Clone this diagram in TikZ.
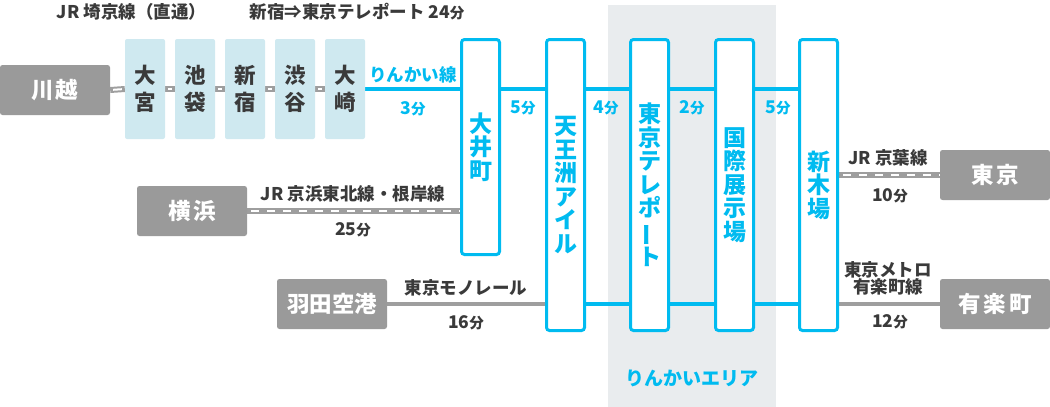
\documentclass[tikz,border=0pt]{standalone}
\usepackage{fontspec}
\setmainfont{Noto Sans CJK JP}
\usepackage{graphicx}
\definecolor{cy}{HTML}{00BBF0}
\definecolor{boxgray}{HTML}{9A9A9A}
\definecolor{linegray}{HTML}{9E9E9E}
\definecolor{lb}{HTML}{CFE9F0}
\definecolor{txt}{HTML}{3A3A3A}
\definecolor{area}{HTML}{E9ECEE}
\pgfdeclarelayer{bg}\pgfdeclarelayer{lines}\pgfsetlayers{bg,lines,main}
\newcommand{\mfun}[1]{#1{\fontsize{14.5}{14.5}\selectfont 分}}
\newcommand{\vbar}{\rotatebox[origin=c]{90}{ー}}
\tikzset{
  graybox/.style={fill=boxgray, rounded corners=2.5pt, text=white, inner sep=0,
    font=\bfseries\fontsize{22.5}{22.5}\selectfont, minimum width=110pt, minimum height=50pt},
  lbbox/.style={fill=lb, rounded corners=2pt, text=txt, inner sep=0, align=center,
    font=\bfseries\fontsize{21.5}{27}\selectfont, minimum width=40pt, minimum height=100pt},
  cybox/.style={draw=cy, line width=3pt, fill=white, rounded corners=3pt, text=cy, inner sep=0,
    align=center, font=\bfseries\fontsize{23}{23.5}\selectfont, minimum width=38pt},
  lbl/.style={text=txt, inner sep=0, align=center, font=\bfseries\fontsize{17.5}{17.5}\selectfont},
  cylbl/.style={lbl, text=cy},
  cyline/.style={draw=cy, line width=3.5pt},
  grayline/.style={draw=linegray, line width=4pt},
  shortrail/.style={draw=linegray, line width=6pt,
    postaction={draw=white, line width=2pt, shorten >=3pt, shorten <=3pt}},
  longrail/.style={draw=linegray, line width=6pt,
    postaction={draw=white, line width=2pt, dash pattern=on 8pt off 8pt, dash phase=12pt}},
}
\begin{document}
\begin{tikzpicture}[x=1pt,y=-1pt]
\useasboundingbox (0,0) rectangle (1050,407);
\begin{pgfonlayer}{bg}
  \fill[area] (608,5) rectangle (776,407);
\end{pgfonlayer}

% origin boxes
\node[graybox] (kawagoe) at (55,90) {川\kern2pt越};
\node[graybox] (yokohama) at (192,211) {横\kern3pt浜};
\node[graybox] (haneda) at (332,304) {羽田空港};
\node[graybox] (tokyo) at (995,175) {東\kern3pt京};
\node[graybox] (yurakucho) at (995,304) {有\kern3pt楽\kern3pt町};

% Saikyo line stations
\node[lbbox] (omiya) at (145,89) {大\\宮};
\node[lbbox] (ikebukuro) at (195,89) {池\\袋};
\node[lbbox] (shinjuku) at (245,89) {新\\宿};
\node[lbbox] (shibuya) at (295,89) {渋\\谷};
\node[lbbox] (osaki) at (345,89) {大\\崎};

% Rinkai line stations
\node[cybox, minimum height=215pt] (oimachi) at (480.5,147) {大\\井\\町};
\node[cybox, minimum height=291pt] (tennozu) at (565.5,185) {天\\王\\洲\\ア\\イ\\ル};
\node[cybox, minimum height=291pt] (teleport) at (649.5,185) {東\\京\\テ\\レ\\ポ\\\vbar\\ト};
\node[cybox, minimum height=291pt] (kokusai) at (734.5,185) {国\\際\\展\\示\\場};
\node[cybox, minimum height=291pt] (shinkiba) at (818.5,185) {新\\木\\場};

\begin{pgfonlayer}{lines}
  \draw[shortrail] (kawagoe.east) -- (omiya.west);
  \draw[shortrail] (omiya.east) -- (ikebukuro.west);
  \draw[shortrail] (ikebukuro.east) -- (shinjuku.west);
  \draw[shortrail] (shinjuku.east) -- (shibuya.west);
  \draw[shortrail] (shibuya.east) -- (osaki.west);
  \draw[cyline] (osaki.east) -- (oimachi.west |- osaki.east);
  \draw[cyline] (oimachi.east |- osaki.east) -- (tennozu.west |- osaki.east);
  \draw[cyline] (tennozu.east |- osaki.east) -- (teleport.west |- osaki.east);
  \draw[cyline] (teleport.east |- osaki.east) -- (kokusai.west |- osaki.east);
  \draw[cyline] (kokusai.east |- osaki.east) -- (shinkiba.west |- osaki.east);
  \draw[cyline] (tennozu.east |- haneda.east) -- (teleport.west |- haneda.east);
  \draw[cyline] (teleport.east |- haneda.east) -- (kokusai.west |- haneda.east);
  \draw[cyline] (kokusai.east |- haneda.east) -- (shinkiba.west |- haneda.east);
  \draw[longrail] (yokohama.east) -- (oimachi.west |- yokohama.east);
  \draw[grayline] (haneda.east) -- (tennozu.west |- haneda.east);
  \draw[longrail] (shinkiba.east |- tokyo.west) -- (tokyo.west);
  \draw[grayline] (shinkiba.east |- yurakucho.west) -- (yurakucho.west);
\end{pgfonlayer}

% labels
\node[lbl] (l1) at (131.5,12) {JR 埼京線（直通）};
\node[lbl] (l2) at (357,12) {新宿⇒東京テレポート \mfun{24}};
\node[cylbl] (l3) at (413,75) {りんかい線};
\node[cylbl] (l4) at (413,109) {\mfun{3}};
\node[cylbl] (l5) at (523,108) {\mfun{5}};
\node[cylbl] (l6) at (606,108) {\mfun{4}};
\node[cylbl] (l7) at (692,108) {\mfun{2}};
\node[cylbl] (l8) at (778,108) {\mfun{5}};
\node[lbl] (l9) at (353,194) {JR 京浜東北線・根岸線};
\node[lbl] (l10) at (353,230) {\mfun{25}};
\node[lbl] (l11) at (466,288) {東京モノレール};
\node[lbl] (l12) at (466,323) {\mfun{16}};
\node[lbl] (l13) at (888,158) {JR 京葉線};
\node[lbl] (l14) at (890,196) {\mfun{10}};
\node[lbl, font=\bfseries\fontsize{17.5}{17.5}\selectfont] (l15) at (888,278.5) {東京メトロ\\有楽町線};
\node[lbl] (l16) at (890,322) {\mfun{12}};
\node[cylbl, font=\bfseries\fontsize{19}{19}\selectfont] (l17) at (692,378) {りんかいエリア};
\end{tikzpicture}
\end{document}
